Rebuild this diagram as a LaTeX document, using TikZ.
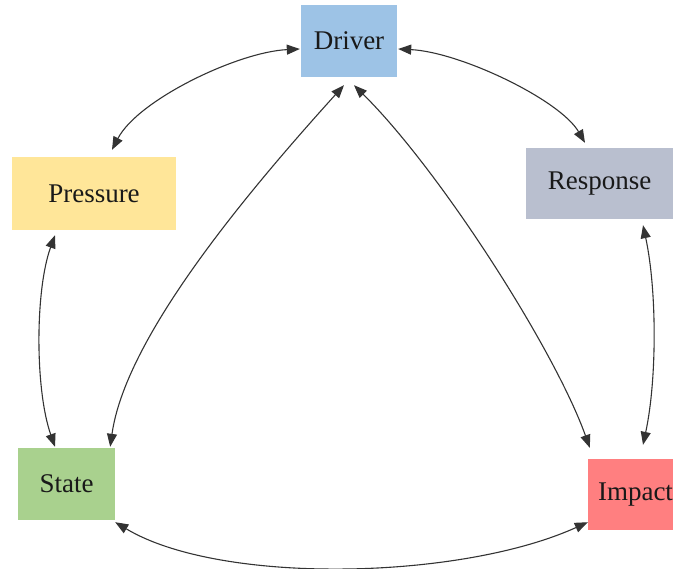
\documentclass[tikz,border=0pt]{standalone}
\usepackage{fontspec}
\setmainfont{Liberation Serif}
\newfontfamily\boxfont{Liberation Serif}
\usetikzlibrary{arrows.meta,calc}
\definecolor{cDriver}{HTML}{9DC3E6}
\definecolor{cPressure}{HTML}{FFE699}
\definecolor{cResponse}{HTML}{B9BFCF}
\definecolor{cState}{HTML}{A9D18E}
\definecolor{cImpact}{HTML}{FF7F80}
\definecolor{cLine}{HTML}{333333}
\begin{document}
\begin{tikzpicture}[x=1pt,y=-1pt,
  box/.style={inner sep=0pt, minimum height=72pt, text=black!90,
    font=\boxfont\fontsize{27}{31}\selectfont},
  link/.style={draw=cLine, line width=1.1pt,
    {Triangle[length=13pt,width=10pt]}-{Triangle[length=13pt,width=10pt]}}]
\useasboundingbox (0,0) rectangle (673,569);
\clip (0,0) rectangle (673,569);
\node[box, fill=cDriver, minimum width=96pt] (driver) at (349,41) {Driver};
\node[box, fill=cPressure, minimum width=164pt, minimum height=73pt] (pressure) at (94,193.5) {Pressure};
\node[box, fill=cResponse, minimum width=147pt, minimum height=71pt] (response) at (599.5,183.5) {Response};
\node[box, fill=cState, minimum width=97pt] (state) at (66.5,484) {State};
\node[box, fill=cImpact, minimum width=95pt, minimum height=71pt] (impact) at (635.5,494.5) {Impact};
% Driver - Pressure
\draw[link] ($(driver.west)+(-1,8)$) .. controls +(-62,3) and +(26,-50) .. ($(pressure.north)+(18,-7)$);
% Driver - Response
\draw[link] ($(driver.east)+(1,8)$) .. controls +(62,3) and +(-25,-43) .. ($(response.north)+(-14.5,-5)$);
% Driver - State
\draw[link] ($(driver.south)+(-5,8)$) .. controls +(-104,115) and +(15,-107) .. ($(state.north east)+(-5,-1)$);
% Driver - Impact
\draw[link] ($(driver.south)+(5,8)$) .. controls +(86,85) and +(-35,-98) .. ($(impact.north west)+(2,-11)$);
% Pressure - State
\draw[link] ($(pressure.south)+(-39,5)$) .. controls +(-20,55) and +(-20,-57) .. ($(state.north)+(-11.5,-1)$);
% Response - Impact
\draw[link] ($(response.south)+(43.5,6)$) .. controls +(14,65) and +(14,-65) .. ($(impact.north)+(7.5,-14)$);
% State - Impact
\draw[link] ($(state.south east)+(0,2)$) .. controls +(105,63) and +(-128,58) .. ($(impact.south west)+(0,-8)$);
\end{tikzpicture}
\end{document}
